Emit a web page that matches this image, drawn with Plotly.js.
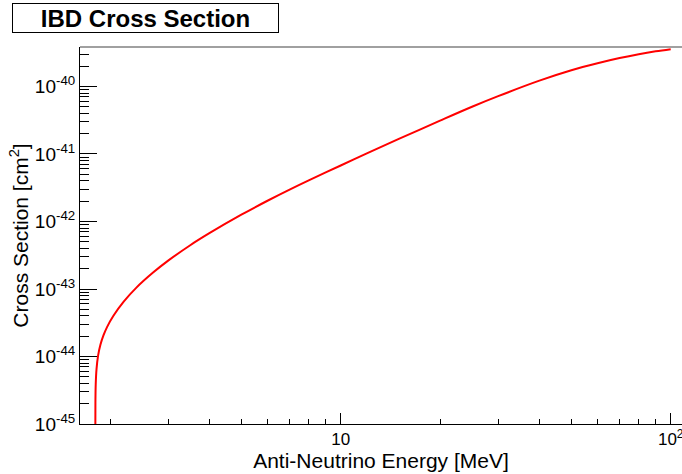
<!DOCTYPE html>
<html>
<head>
<meta charset="utf-8">
<script src="https://cdn.plot.ly/plotly-3.0.1.min.js"></script>
<style>
html,body{margin:0;padding:0;background:#fff;}
#chart{width:682px;height:474px;}
</style>
</head>
<body>
<div id="chart"></div>
<script>
// Anti-neutrino energy [MeV]
const energy = [1.804, 1.806, 1.81, 1.82, 1.84, 1.87, 1.91, 1.96, 2.05, 2.2, 2.4, 2.7, 3.0, 3.5, 4, 5, 6, 7, 8, 10, 12, 15, 20, 25, 30, 40, 50, 60, 70, 80, 90, 100];
// IBD cross section [cm^2]
const xsec = [3e-46, 2.1e-45, 3.9e-45, 6.5e-45, 1.03e-44, 1.49e-44, 2.05e-44, 2.75e-44, 4.05e-44, 6.5e-44, 1.04e-43, 1.75e-43, 2.63e-43, 4.45e-43, 6.7e-43, 1.26e-42, 2.03e-42, 2.97e-42, 4.07e-42, 6.75e-42, 1.02e-41, 1.67e-41, 3.12e-41, 5.01e-41, 7.19e-41, 1.22e-40, 1.74e-40, 2.21e-40, 2.64e-40, 3.01e-40, 3.32e-40, 3.57e-40];

const xTickVals = [10, 100];
const xTickText = ['10', '10<sup>2</sup>'];
const xMinorVals = [2, 3, 4, 5, 6, 7, 8, 9, 20, 30, 40, 50, 60, 70, 80, 90];
const yTickVals = [1e-45, 1e-44, 1e-43, 1e-42, 1e-41, 1e-40];
const yTickText = ['10<sup>-45</sup>', '10<sup>-44</sup>', '10<sup>-43</sup>', '10<sup>-42</sup>', '10<sup>-41</sup>', '10<sup>-40</sup>'];
const yMinorVals = [
  2e-45, 3e-45, 4e-45, 5e-45, 6e-45, 7e-45, 8e-45, 9e-45,
  2e-44, 3e-44, 4e-44, 5e-44, 6e-44, 7e-44, 8e-44, 9e-44,
  2e-43, 3e-43, 4e-43, 5e-43, 6e-43, 7e-43, 8e-43, 9e-43,
  2e-42, 3e-42, 4e-42, 5e-42, 6e-42, 7e-42, 8e-42, 9e-42,
  2e-41, 3e-41, 4e-41, 5e-41, 6e-41, 7e-41, 8e-41, 9e-41,
  2e-40, 3e-40
];

const xRange = [0.21, 2.0342];
const yRange = [-45, -39.415];
const FONT = 'Liberation Sans, Arial, Helvetica, sans-serif';

const traces = [
  {x: energy, y: xsec, type: 'scatter', mode: 'lines',
   line: {color: '#ff0000', width: 2, shape: 'spline', smoothing: 1}, xaxis: 'x', yaxis: 'y', hoverinfo: 'skip'},
  {x: [], y: [], type: 'scatter', mode: 'lines', xaxis: 'x2', yaxis: 'y2', showlegend: false}
];

const layout = {
  width: 682, height: 474,
  margin: {l: 80, r: 0, t: 47, b: 50, pad: 0},
  paper_bgcolor: '#fff', plot_bgcolor: '#fff',
  showlegend: false,
  font: {family: FONT, color: '#000', size: 17},
  xaxis: {
    type: 'log', range: xRange, showgrid: false, zeroline: false,
    showline: true, linecolor: '#000', linewidth: 1,
    ticks: 'inside', ticklen: 11, tickwidth: 1, tickcolor: '#000',
    tickmode: 'array', tickvals: xTickVals, ticktext: xTickText,
    ticklabeloverflow: 'allow',
    tickfont: {family: FONT, size: 17},
    title: {text: 'Anti-Neutrino Energy [MeV]', font: {family: FONT, size: 21}, standoff: 0}
  },
  yaxis: {
    type: 'log', range: yRange, showgrid: false, zeroline: false,
    showline: true, linecolor: '#000', linewidth: 1,
    ticks: 'inside', ticklen: 17, tickwidth: 1, tickcolor: '#000',
    tickmode: 'array', tickvals: yTickVals, ticktext: yTickText,
    ticklabeloverflow: 'allow',
    tickfont: {family: FONT, size: 19},
    title: {text: 'Cross Section [cm<sup>2</sup>]', font: {family: FONT, size: 21}, standoff: 0}
  },
  xaxis2: {
    type: 'log', range: xRange, overlaying: 'x', anchor: 'y2', side: 'bottom',
    showgrid: false, zeroline: false, showline: false, showticklabels: false,
    ticks: 'inside', ticklen: 5.5, tickwidth: 1, tickcolor: '#000',
    tickmode: 'array', tickvals: xMinorVals
  },
  yaxis2: {
    type: 'log', range: yRange, overlaying: 'y', anchor: 'x2', side: 'left',
    showgrid: false, zeroline: false, showline: false, showticklabels: false,
    ticks: 'inside', ticklen: 8.5, tickwidth: 1, tickcolor: '#000',
    tickmode: 'array', tickvals: yMinorVals
  },
  shapes: [
    {type: 'line', xref: 'paper', yref: 'paper', x0: 0, x1: 1, y0: 1, y1: 1,
     line: {color: '#808080', width: 1.5}}
  ],
  annotations: [
    {text: '<b>IBD Cross Section</b>', xref: 'paper', yref: 'paper',
     x: 0.1088, y: 1.0769, xanchor: 'center', yanchor: 'middle',
     showarrow: false, font: {family: FONT, size: 24, color: '#000'},
     bordercolor: '#000', borderwidth: 1, borderpad: 0,
     width: 265, height: 28, bgcolor: '#fff'}
  ]
};

Plotly.newPlot('chart', traces, layout, {displayModeBar: false, staticPlot: true});
</script>
</body>
</html>
